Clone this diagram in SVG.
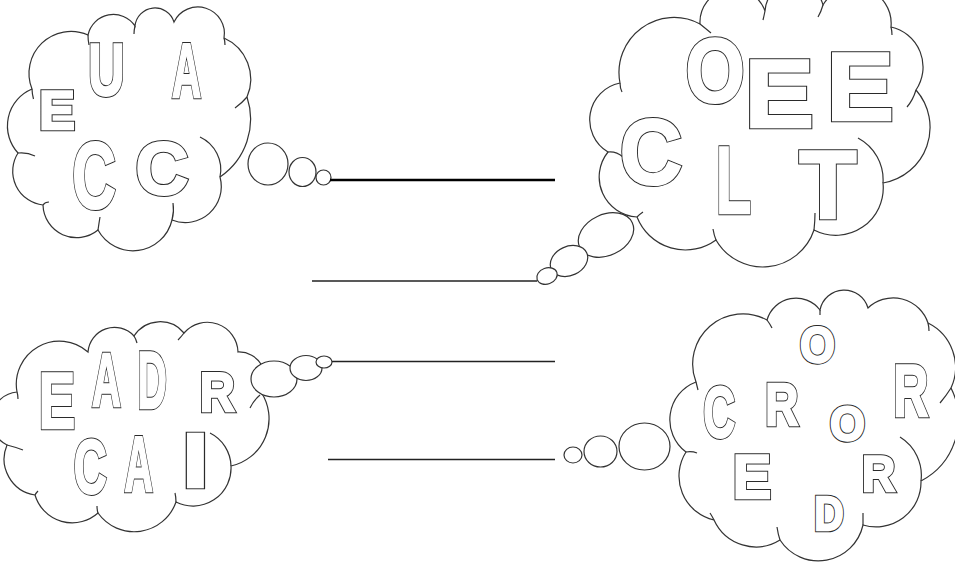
<svg xmlns="http://www.w3.org/2000/svg" width="955" height="565" viewBox="0 0 955 565">
<style>
.cloud{fill:#fff;stroke:#333;stroke-width:1.2}
.crease{fill:none;stroke:#333;stroke-width:1.2}
.bub{fill:#fff;stroke:#333;stroke-width:1.2}
text{font-family:"Liberation Sans",Arial,sans-serif;font-weight:bold;text-anchor:middle;vector-effect:non-scaling-stroke;stroke-linejoin:miter;text-rendering:geometricPrecision}
.lo text{fill:#fff;stroke:#2a2a2a;stroke-width:4.4}
.hi text{fill:#fff;stroke:#fff;stroke-width:2.4}
.ans{stroke:#222;stroke-width:1.5;fill:none}
.ans.bold{stroke:#000;stroke-width:2.6}
</style>
<rect width="955" height="565" fill="#fff"/>

<g id="cloud-tl">
<path class="cloud" d="M 32 89 A 42 42 0 0 1 88 35 A 26 26 0 0 1 135 26 A 20 20 0 0 1 174 22 A 26.5 26.5 0 0 1 224 38 A 45 45 0 0 1 247 97 A 70 70 0 0 1 220 177 A 36 36 0 0 1 172 220 A 40 40 0 0 1 98 230 A 33.6 33.6 0 0 1 43 205 A 34 34 0 0 1 18 153 A 40 40 0 0 1 32 89 Z"/>
<path class="crease" d="M 33.5 99 A 42 42 0 0 1 32 89 M 89 45 Q 88 40 88 35 M 134 34 Q 134 30 135 26 M 224 38 Q 225 41 225 45 M 247 97 Q 242 103 235 108 M 200 137 A 36 36 0 0 1 220 177 M 173 203 A 40 40 0 0 1 172 220 M 98 230 Q 99 223 100 217 M 43 205 Q 45 202 49 202 M 18 153 Q 27 152 35 156"/>
<g class="lo">
<text font-size="54.5" transform="translate(57,129) scale(0.99,1)">E</text>
<text font-size="73.5" transform="translate(106.5,94.6) scale(0.684,1)">U</text>
<text font-size="76.8" transform="translate(186.5,97) scale(0.524,1)">A</text>
<text font-size="94.2" transform="translate(94,208.2) scale(0.642,1)">C</text>
<text font-size="74.3" transform="translate(162,193.6) scale(0.986,1)">C</text>
</g>
<g class="hi">
<text font-size="54.5" transform="translate(57,129) scale(0.99,1)">E</text>
<text font-size="73.5" transform="translate(106.5,94.6) scale(0.684,1)">U</text>
<text font-size="76.8" transform="translate(186.5,97) scale(0.524,1)">A</text>
<text font-size="94.2" transform="translate(94,208.2) scale(0.642,1)">C</text>
<text font-size="74.3" transform="translate(162,193.6) scale(0.986,1)">C</text>
</g>
<ellipse class="bub" cx="268" cy="164" rx="20" ry="21"/>
<ellipse class="bub" cx="302.5" cy="172" rx="13.5" ry="14.5"/>
<circle class="bub" cx="323.5" cy="177.5" r="7.5"/>
</g>

<g id="cloud-tr">
<path class="cloud" d="M 620 83 A 55 55 0 0 1 700 24 A 33.5 33.5 0 0 1 765 11 A 29.5 29.5 0 0 1 823 5 A 36.6 36.6 0 0 1 891 27 A 41 41 0 0 1 916 90 A 56.5 56.5 0 0 1 883 183 A 47.4 47.4 0 0 1 814 230 A 54 54 0 0 1 716 240 A 52 52 0 0 1 637 217 A 40 40 0 0 1 608 152 A 37.5 37.5 0 0 1 620 83 Z"/>
<path class="crease" d="M 620 83 Q 620 88 622 92 M 608 152 Q 616 151 623 157 M 716 240 Q 714 235 713 229 M 814 230 Q 815 221 815 213 M 858 138 A 47.4 47.4 0 0 1 883 183 M 916 90 Q 913 100 907 107 M 765 11 Q 764 16 763 20 M 823 5 Q 821 12 818 17 M 637 217 Q 640 214 643 212 M 700 24 Q 705 28 711 33 M 891 27 Q 892 31 892 35"/>
<g class="lo">
<text font-size="91.1" transform="translate(715,102.3) scale(0.836,1)">O</text>
<text font-size="96.8" transform="translate(779.2,127.3) scale(1.077,1)">E</text>
<text font-size="96.8" transform="translate(860.2,119.7) scale(1.045,1)">E</text>
<text font-size="92.8" transform="translate(651,183.5) scale(0.932,1)">C</text>
<text font-size="95.4" transform="translate(733.6,213) scale(0.602,1)">L</text>
<text font-size="96.8" transform="translate(828,218) scale(0.969,1)">T</text>
</g>
<g class="hi">
<text font-size="91.1" transform="translate(715,102.3) scale(0.836,1)">O</text>
<text font-size="96.8" transform="translate(779.2,127.3) scale(1.077,1)">E</text>
<text font-size="96.8" transform="translate(860.2,119.7) scale(1.045,1)">E</text>
<text font-size="92.8" transform="translate(651,183.5) scale(0.932,1)">C</text>
<text font-size="95.4" transform="translate(733.6,213) scale(0.602,1)">L</text>
<text font-size="96.8" transform="translate(828,218) scale(0.969,1)">T</text>
</g>
<ellipse class="bub" cx="606" cy="235" rx="29" ry="20.5" transform="rotate(-25 606 235)"/>
<ellipse class="bub" cx="569" cy="261" rx="19.5" ry="14.5" transform="rotate(-25 569 261)"/>
<ellipse class="bub" cx="547" cy="276" rx="10.5" ry="8" transform="rotate(-20 547 276)"/>
</g>

<g id="cloud-bl">
<path class="cloud" d="M 17 392 A 43.1 43.1 0 0 1 88 352 A 26.5 26.5 0 0 1 134 336 A 31 31 0 0 1 184 333 A 30.7 30.7 0 0 1 238 352 A 26 26 0 0 1 261 392 A 48.4 48.4 0 0 1 231 466 A 38 38 0 0 1 176 502 A 44.3 44.3 0 0 1 98 513 A 38.8 38.8 0 0 1 35 495 A 36.3 36.3 0 0 1 7 445 A 28 28 0 0 1 17 392 Z"/>
<path class="crease" d="M 17 392 Q 18 395 18 399 M 7 445 Q 15 447 23 450 M 35 495 Q 36 493 38 491 M 98 513 Q 97 510 97 506 M 176 502 Q 176 497 175 493 M 210 433 A 38 38 0 0 1 231 466 M 260 395 Q 254 400 250 408 M 184 333 Q 181 337 178 340 M 134 336 Q 136 339 137 343"/>
<g class="lo">
<text font-size="79.2" transform="translate(56.9,428) scale(0.689,1)">E</text>
<text font-size="75.8" transform="translate(106.3,406.3) scale(0.526,1)">A</text>
<text font-size="80.6" transform="translate(152.1,408) scale(0.505,1)">D</text>
<text font-size="54.9" transform="translate(217.4,411.3) scale(0.885,1)">R</text>
<text font-size="76.5" transform="translate(90.3,493.2) scale(0.597,1)">C</text>
<text font-size="78.2" transform="translate(138.8,491.3) scale(0.503,1)">A</text>
<text font-size="77.2" transform="translate(195.3,487.3) scale(1.25,1)">I</text>
</g>
<g class="hi">
<text font-size="79.2" transform="translate(56.9,428) scale(0.689,1)">E</text>
<text font-size="75.8" transform="translate(106.3,406.3) scale(0.526,1)">A</text>
<text font-size="80.6" transform="translate(152.1,408) scale(0.505,1)">D</text>
<text font-size="54.9" transform="translate(217.4,411.3) scale(0.885,1)">R</text>
<text font-size="76.5" transform="translate(90.3,493.2) scale(0.597,1)">C</text>
<text font-size="78.2" transform="translate(138.8,491.3) scale(0.503,1)">A</text>
<text font-size="77.2" transform="translate(195.3,487.3) scale(1.25,1)">I</text>
</g>
<ellipse class="bub" cx="274" cy="379" rx="23" ry="18"/>
<ellipse class="bub" cx="306" cy="368" rx="16" ry="12.5"/>
<ellipse class="bub" cx="324" cy="362" rx="8" ry="6"/>
</g>

<g id="cloud-br">
<path class="cloud" d="M 696 382 A 50.2 50.2 0 0 1 767 320 A 30.2 30.2 0 0 1 820 310 A 24.7 24.7 0 0 1 868 308 A 36.6 36.6 0 0 1 928 323 A 49.5 49.5 0 0 1 951 388 A 69.7 69.7 0 0 1 921 481 A 45 45 0 0 1 863 525 A 45.7 45.7 0 0 1 780 540 A 46 46 0 0 1 714 520 A 45 45 0 0 1 686 452 A 40.3 40.3 0 0 1 696 382 Z"/>
<path class="crease" d="M 696 382 Q 697 386 698 390 M 767 320 Q 770 324 772 328 M 820 310 Q 820 312 820 315 M 928 323 Q 929 327 929 331 M 951 388 Q 946 396 940 403 M 900 437 A 45 45 0 0 1 921 481 M 863 525 Q 863 519 863 513 M 780 540 Q 778 534 777 527 M 714 520 Q 712 516 710 513 M 686 452 Q 692 451 697 453"/>
<g class="lo">
<text font-size="50" transform="translate(817.5,362.1) scale(0.897,1)">O</text>
<text font-size="72" transform="translate(719.2,436.6) scale(0.613,1)">C</text>
<text font-size="59.6" transform="translate(781.8,424.7) scale(0.77,1)">R</text>
<text font-size="47.7" transform="translate(847.5,440.4) scale(0.94,1)">O</text>
<text font-size="73.6" transform="translate(910.9,416.3) scale(0.66,1)">R</text>
<text font-size="61.9" transform="translate(752,498) scale(0.933,1)">E</text>
<text font-size="50.3" transform="translate(878.5,491.3) scale(0.913,1)">R</text>
<text font-size="47.9" transform="translate(828.9,529.7) scale(0.85,1)">D</text>
</g>
<g class="hi">
<text font-size="50" transform="translate(817.5,362.1) scale(0.897,1)">O</text>
<text font-size="72" transform="translate(719.2,436.6) scale(0.613,1)">C</text>
<text font-size="59.6" transform="translate(781.8,424.7) scale(0.77,1)">R</text>
<text font-size="47.7" transform="translate(847.5,440.4) scale(0.94,1)">O</text>
<text font-size="73.6" transform="translate(910.9,416.3) scale(0.66,1)">R</text>
<text font-size="61.9" transform="translate(752,498) scale(0.933,1)">E</text>
<text font-size="50.3" transform="translate(878.5,491.3) scale(0.913,1)">R</text>
<text font-size="47.9" transform="translate(828.9,529.7) scale(0.85,1)">D</text>
</g>
<ellipse class="bub" cx="573" cy="455" rx="9" ry="8"/>
<ellipse class="bub" cx="600.5" cy="451.5" rx="16.5" ry="15.5"/>
<ellipse class="bub" cx="644.5" cy="446.5" rx="25.5" ry="23.5"/>
</g>

<g id="connectors">
<line class="ans bold" x1="330" y1="180" x2="555" y2="180"/>
<line class="ans" x1="312" y1="281" x2="537" y2="281"/>
<line class="ans" x1="332" y1="361.5" x2="555" y2="361.5"/>
<line class="ans" x1="328" y1="459.5" x2="555" y2="459.5"/>
</g>
</svg>
